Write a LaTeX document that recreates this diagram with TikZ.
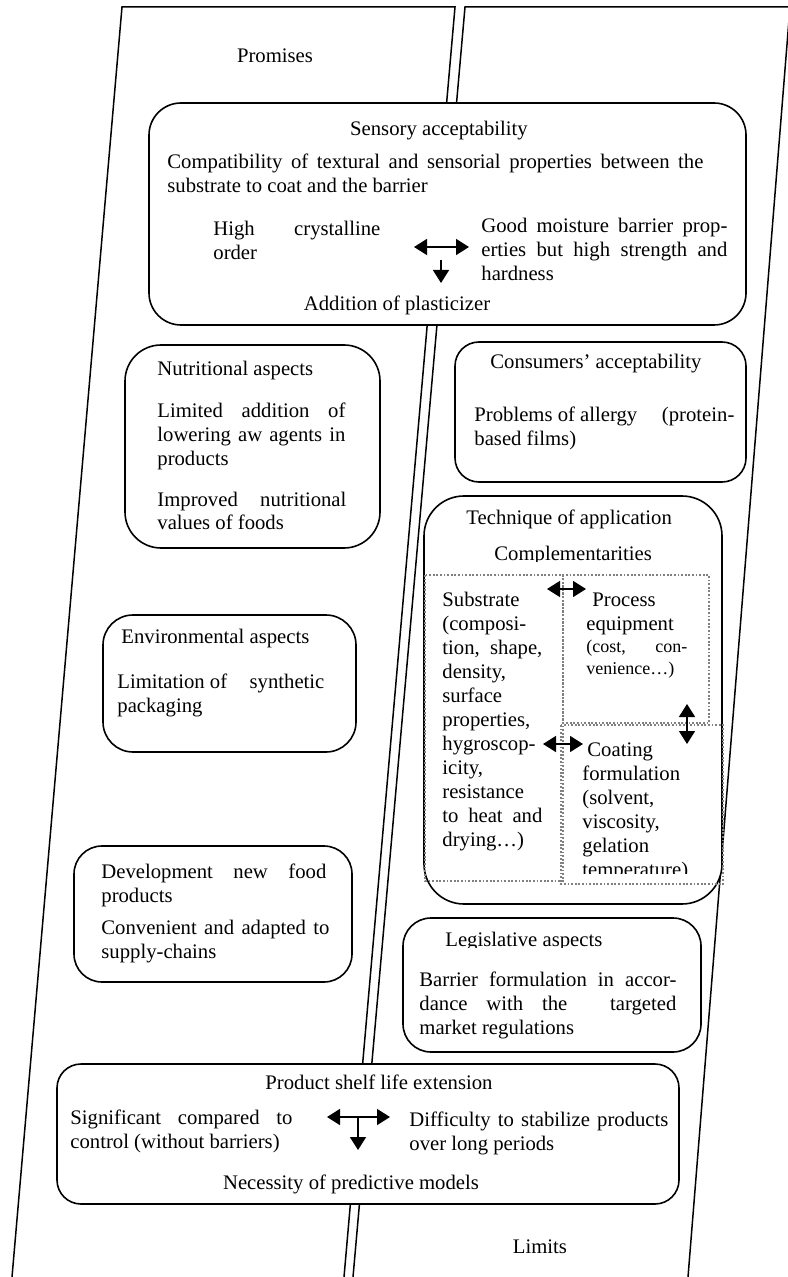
\documentclass[tikz,border=0pt]{standalone}
\usepackage{fontspec}
\setmainfont{Liberation Serif}
\usetikzlibrary{arrows.meta}
\newcommand{\jl}[2]{\makebox[#1][s]{#2}}
\newcommand{\jf}[2]{\makebox[#1][l]{#2}}
\newcommand{\ls}[1]{\begin{tabular}[t]{@{}l@{}}#1\end{tabular}}

\begin{document}
\begin{tikzpicture}[x=0.5pt,y=-0.5pt,
  every node/.style={inner sep=0pt,font=\fontsize{10.35pt}{12pt}\selectfont},
  frame/.style={line width=0.75pt},
  box/.style={draw,fill=white,line width=0.8pt,rounded corners=#1},
  box/.default=15pt,
  dotbox/.style={draw=gray,line width=0.9pt,dash pattern=on 0.9pt off 0.9pt},
  twoway/.style={line width=0.8pt,{Triangle[length=6.5pt,width=8pt]}-{Triangle[length=6.5pt,width=8pt]}},
  oneway/.style={line width=0.8pt,-{Triangle[length=6.5pt,width=8pt]}},
  txt/.style={anchor=base west}]
\useasboundingbox (0,0) rectangle (787,1277);

\draw[frame] (12,1277) -- (122,7) -- (455,7) -- (344,1277);
\draw[frame] (353,1277) -- (465,7) -- (790,7) -- (688,1277);

\node[anchor=base] (promises) at (275,63) {Promises};
\node[anchor=base] (limits) at (540,1253) {Limits};

\node[box=16pt,minimum width=298.5pt,minimum height=111pt] (sens) at (447.5,214) {};
\node[box=18pt,minimum width=127.5pt,minimum height=101.5pt] (nutr) at (252.5,446.5) {};
\node[box=12pt,minimum width=145.5pt,minimum height=70pt] (cons) at (600.5,412) {};
\node[box=20pt,minimum width=149pt,minimum height=204pt] (tech) at (573,700) {};
\node[box=15pt,minimum width=126.5pt,minimum height=68.5pt] (envi) at (229.5,683.5) {};
\node[box=14pt,minimum width=139pt,minimum height=68pt] (deve) at (213,914) {};
\node[box=14pt,minimum width=149pt,minimum height=67pt] (legi) at (552,985) {};
\node[box=12pt,minimum width=311pt,minimum height=70pt] (prod) at (368,1134) {};

\draw[dotbox] (425,575) rectangle (563,881);
\draw[dotbox] (563,575) rectangle (709,723);
\draw[dotbox] (561,725) rectangle (723,884);

\node[anchor=base] (senstitle) at (439,136) {Sensory acceptability};
\node[txt] (compat) at (167,169) {\ls{\jl{268pt}{Compatibility of textural and sensorial properties between the}\\substrate to coat and the barrier}};
\node[txt] (cryst) at (213,236) {\ls{\jl{83.5pt}{High crystalline}\\order}};
\node[txt] (moist) at (481,233) {\ls{\jl{123pt}{Good moisture barrier prop-}\\\jl{123pt}{erties but high strength and}\\hardness}};
\node[anchor=base] (plast) at (397,311) {Addition of plasticizer};

\node[txt] (nutrtitle) at (157,376) {Nutritional aspects};
\node[txt] (lowaw) at (157,418) {\ls{\jl{94pt}{Limited addition of}\\\jl{94pt}{lowering aw agents in}\\products}};
\node[txt] (nutrval) at (157,506) {\ls{\jl{94.5pt}{Improved nutritional}\\values of foods}};

\node[txt] (constitle) at (490,369) {Consumers’ acceptability};
\node[txt] (allergy) at (474,422) {\ls{\jf{130pt}{Problems of allergy\hfill(protein-}\\based films)}};

\node[txt] (techtitle) at (466,524) {Technique of application};
\begin{scope}
\clip (460,535) rectangle (680,561);
\node[txt] (compl) at (494,560) {Complementarities};
\end{scope}
\node[txt] (subst) at (442,606) {\ls{Substrate\\(composi-\\\jl{50pt}{tion, shape,}\\density,\\surface\\properties,\\hygroscop-\\icity,\\resistance\\\jl{50pt}{to heat and}\\drying…)}};
\node[txt] (proc) at (586,606) {\ls{\hspace{3pt}Process\\equipment}};
\node[txt,font=\fontsize{9pt}{11pt}\selectfont] (proccost) at (586,652) {\ls{\jl{50.5pt}{(cost, con-}\\venience…)}};
\begin{scope}
\clip (570,735) rectangle (720,873);
\node[txt] (coat) at (582,756) {\ls{\hspace{2.5pt}Coating\\formulation\\(solvent,\\viscosity,\\gelation\\temperature)}};
\end{scope}

\node[txt] (envititle) at (121,643) {Environmental aspects};
\node[txt] (synth) at (117,688) {\ls{\jf{103.5pt}{Limitation of\hfill synthetic}\\packaging}};

\node[txt] (devetitle) at (101,878) {\ls{\jl{112.5pt}{Development new food}\\products}};
\node[txt] (conv) at (101,934) {\ls{\jl{114pt}{Convenient and adapted to}\\supply-chains}};

\begin{scope}
\clip (430,925) rectangle (680,947);
\node[txt] (legititle) at (445,946) {Legislative aspects};
\end{scope}
\node[txt] (market) at (419,986) {\ls{\jl{128.5pt}{Barrier formulation in accor-}\\\jl{128.5pt}{dance with the\hspace{12pt} targeted}\\market regulations}};

\node[anchor=base] (prodtitle) at (379,1089) {Product shelf life extension};
\node[txt] (signif) at (70,1124) {\ls{\jl{111pt}{Significant compared to}\\control (without barriers)}};
\node[txt] (stabil) at (409,1126) {\ls{\jl{129.5pt}{Difficulty to stabilize products}\\over long periods}};
\node[anchor=base] (predict) at (351,1189) {Necessity of predictive models};

\coordinate (s1) at (414,247);
\coordinate (s2) at (469,247);
\coordinate (s3) at (441,260);
\coordinate (s4) at (441,283);
\coordinate (t1) at (547,589);
\coordinate (t2) at (586,589);
\coordinate (t3) at (687,704);
\coordinate (t4) at (687,744);
\coordinate (t5) at (543,744);
\coordinate (t6) at (583,744);
\coordinate (p1) at (327,1117);
\coordinate (p2) at (390,1117);
\coordinate (p3) at (358,1117);
\coordinate (p4) at (358,1150);

\draw[twoway] (s1) -- (s2);
\draw[oneway] (s3) -- (s4);
\draw[twoway] (t1) -- (t2);
\draw[twoway] (t3) -- (t4);
\draw[twoway] (t5) -- (t6);
\draw[twoway] (p1) -- (p2);
\draw[oneway] (p3) -- (p4);

\end{tikzpicture}
\end{document}
